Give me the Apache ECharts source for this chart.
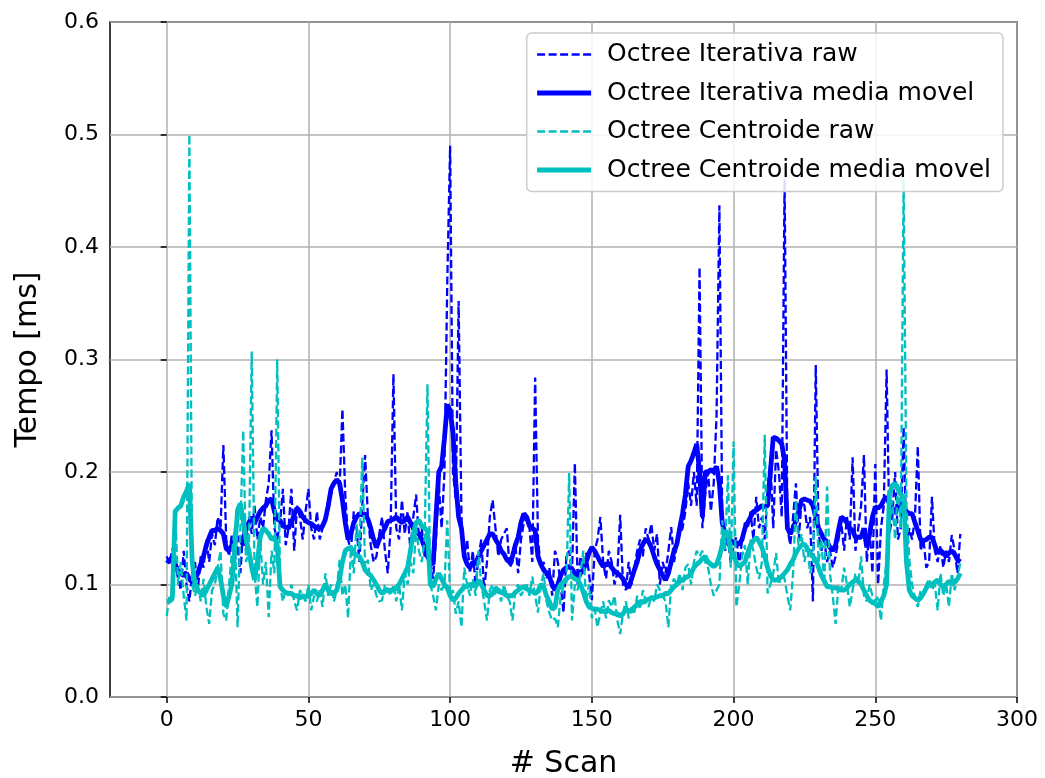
<!DOCTYPE html>
<html>
<head>
<meta charset="utf-8">
<script src="https://cdn.jsdelivr.net/npm/echarts@6/dist/echarts.min.js"></script>
<style>
html,body{margin:0;padding:0;background:#fff;}
#chart{width:1045px;height:778px;}
</style>
</head>
<body>
<div id="chart"></div>
<script>
const xTicks = [0, 50, 100, 150, 200, 250, 300];
const yTicks = [0.0, 0.1, 0.2, 0.3, 0.4, 0.5, 0.6];

const iterativaRaw = [
0.125,0.118,0.132,0.12,0.105,0.095,0.13,0.1,0.085,0.11,
0.12,0.095,0.125,0.115,0.14,0.12,0.145,0.135,0.16,0.15,
0.224,0.14,0.125,0.145,0.12,0.135,0.11,0.15,0.13,0.16,
0.145,0.17,0.14,0.16,0.15,0.175,0.19,0.237,0.15,0.14,
0.155,0.185,0.135,0.15,0.185,0.13,0.17,0.16,0.14,0.165,
0.185,0.15,0.14,0.165,0.14,0.15,0.16,0.175,0.18,0.19,
0.2,0.185,0.256,0.18,0.14,0.13,0.165,0.15,0.12,0.17,
0.215,0.16,0.135,0.12,0.125,0.145,0.16,0.13,0.11,0.15,
0.287,0.15,0.14,0.175,0.145,0.165,0.13,0.16,0.18,0.14,
0.15,0.125,0.13,0.12,0.105,0.14,0.19,0.15,0.2,0.37,
0.49,0.2,0.175,0.352,0.16,0.12,0.14,0.11,0.13,0.1,
0.125,0.14,0.095,0.12,0.16,0.175,0.15,0.125,0.14,0.145,
0.15,0.115,0.12,0.135,0.11,0.14,0.155,0.16,0.15,0.12,
0.284,0.14,0.115,0.12,0.105,0.115,0.09,0.13,0.12,0.1,
0.075,0.125,0.13,0.11,0.208,0.1,0.125,0.115,0.128,0.11,
0.086,0.13,0.14,0.16,0.12,0.105,0.13,0.12,0.1,0.11,
0.162,0.1,0.095,0.12,0.1,0.115,0.13,0.14,0.125,0.15,
0.14,0.154,0.13,0.145,0.1,0.12,0.11,0.13,0.151,0.12,
0.135,0.145,0.15,0.165,0.19,0.17,0.2,0.17,0.382,0.15,
0.18,0.2,0.165,0.19,0.25,0.437,0.16,0.13,0.14,0.12,
0.135,0.142,0.115,0.14,0.155,0.15,0.165,0.14,0.178,0.15,
0.16,0.14,0.184,0.21,0.15,0.22,0.2,0.16,0.46,0.15,
0.135,0.16,0.19,0.14,0.175,0.17,0.15,0.16,0.085,0.295,
0.145,0.13,0.14,0.12,0.13,0.115,0.125,0.14,0.155,0.13,
0.16,0.14,0.213,0.13,0.15,0.17,0.215,0.12,0.15,0.11,
0.207,0.1,0.15,0.17,0.291,0.145,0.16,0.2,0.14,0.15,
0.24,0.13,0.15,0.14,0.16,0.223,0.13,0.14,0.115,0.12,
0.178,0.13,0.12,0.135,0.115,0.13,0.12,0.144,0.13,0.11,0.145
];

const iterativaMedia = [
0.122,0.12,0.125,0.118,0.112,0.11,0.108,0.11,0.105,0.102,
0.105,0.11,0.118,0.125,0.135,0.142,0.148,0.148,0.15,0.148,
0.145,0.132,0.13,0.135,0.138,0.14,0.142,0.135,0.15,0.155,
0.16,0.155,0.16,0.165,0.168,0.17,0.175,0.176,0.165,0.158,
0.157,0.152,0.151,0.15,0.155,0.162,0.168,0.165,0.16,0.157,
0.155,0.154,0.152,0.15,0.15,0.152,0.158,0.17,0.185,0.19,
0.193,0.19,0.175,0.155,0.14,0.145,0.155,0.16,0.163,0.162,
0.163,0.158,0.15,0.14,0.133,0.14,0.145,0.15,0.156,0.157,
0.158,0.16,0.157,0.155,0.157,0.16,0.155,0.15,0.148,0.145,
0.14,0.133,0.125,0.12,0.118,0.16,0.2,0.205,0.23,0.26,
0.255,0.235,0.19,0.16,0.15,0.125,0.118,0.115,0.12,0.118,
0.125,0.13,0.135,0.14,0.145,0.145,0.14,0.136,0.13,0.127,
0.122,0.12,0.125,0.135,0.142,0.155,0.163,0.16,0.152,0.15,
0.148,0.125,0.118,0.113,0.11,0.107,0.1,0.095,0.1,0.108,
0.113,0.115,0.116,0.114,0.11,0.105,0.11,0.113,0.12,0.128,
0.133,0.13,0.125,0.12,0.116,0.118,0.119,0.115,0.112,0.11,
0.108,0.105,0.1,0.097,0.105,0.113,0.12,0.13,0.136,0.14,
0.138,0.133,0.125,0.118,0.113,0.108,0.104,0.11,0.12,0.13,
0.136,0.15,0.163,0.18,0.205,0.21,0.217,0.225,0.2,0.16,
0.2,0.2,0.202,0.2,0.205,0.19,0.155,0.145,0.14,0.139,
0.137,0.136,0.136,0.14,0.15,0.155,0.16,0.165,0.166,0.168,
0.17,0.169,0.17,0.2,0.231,0.23,0.228,0.225,0.21,0.15,
0.145,0.15,0.157,0.165,0.175,0.176,0.175,0.174,0.17,0.16,
0.15,0.145,0.14,0.138,0.133,0.13,0.135,0.148,0.16,0.158,
0.155,0.15,0.148,0.142,0.142,0.142,0.15,0.133,0.145,0.16,
0.169,0.168,0.17,0.175,0.178,0.172,0.168,0.163,0.17,0.172,
0.168,0.165,0.163,0.163,0.155,0.148,0.14,0.139,0.14,0.142,
0.142,0.135,0.128,0.13,0.128,0.125,0.128,0.13,0.127,0.122,0.12
];

const centroideRaw = [
0.072,0.09,0.085,0.165,0.1,0.12,0.09,0.068,0.5,0.1,
0.09,0.1,0.085,0.105,0.08,0.065,0.095,0.1,0.116,0.13,
0.074,0.068,0.1,0.128,0.15,0.062,0.15,0.237,0.12,0.13,
0.307,0.11,0.08,0.14,0.1,0.12,0.071,0.13,0.11,0.3,
0.1,0.085,0.095,0.09,0.1,0.085,0.077,0.095,0.09,0.085,
0.1,0.077,0.09,0.085,0.095,0.08,0.11,0.09,0.1,0.085,
0.095,0.122,0.09,0.1,0.07,0.133,0.11,0.154,0.13,0.213,
0.115,0.122,0.095,0.1,0.09,0.085,0.086,0.1,0.095,0.09,
0.1,0.085,0.1,0.077,0.11,0.1,0.12,0.11,0.15,0.13,
0.12,0.14,0.278,0.1,0.09,0.077,0.1,0.095,0.1,0.157,
0.09,0.095,0.074,0.085,0.062,0.115,0.1,0.09,0.105,0.09,
0.13,0.1,0.085,0.068,0.095,0.1,0.09,0.095,0.085,0.1,
0.09,0.085,0.068,0.095,0.1,0.09,0.095,0.1,0.09,0.107,
0.09,0.075,0.1,0.11,0.085,0.075,0.068,0.07,0.062,0.09,
0.098,0.1,0.199,0.068,0.1,0.095,0.11,0.13,0.085,0.1,
0.07,0.078,0.062,0.075,0.085,0.07,0.086,0.08,0.09,0.068,
0.056,0.075,0.085,0.07,0.08,0.075,0.09,0.078,0.095,0.085,
0.08,0.09,0.085,0.1,0.095,0.09,0.085,0.062,0.1,0.105,
0.1,0.11,0.095,0.115,0.118,0.1,0.12,0.13,0.125,0.13,
0.12,0.115,0.1,0.09,0.095,0.1,0.157,0.13,0.197,0.115,
0.227,0.08,0.1,0.125,0.135,0.1,0.14,0.13,0.115,0.105,
0.12,0.233,0.092,0.1,0.11,0.128,0.1,0.11,0.105,0.09,
0.077,0.11,0.175,0.13,0.145,0.12,0.135,0.11,0.12,0.196,
0.12,0.14,0.1,0.187,0.11,0.09,0.065,0.1,0.095,0.115,
0.1,0.08,0.095,0.11,0.1,0.125,0.09,0.085,0.1,0.09,
0.085,0.09,0.068,0.1,0.12,0.16,0.175,0.14,0.19,0.15,
0.46,0.17,0.122,0.1,0.088,0.08,0.095,0.09,0.1,0.105,
0.095,0.1,0.077,0.11,0.09,0.1,0.08,0.11,0.095,0.105,0.12
];

const centroideMedia = [
0.085,0.085,0.088,0.165,0.168,0.17,0.178,0.183,0.19,0.12,
0.1,0.095,0.092,0.09,0.095,0.1,0.105,0.11,0.115,0.105,
0.09,0.08,0.09,0.1,0.13,0.166,0.172,0.157,0.14,0.13,
0.115,0.104,0.12,0.142,0.15,0.148,0.145,0.14,0.142,0.135,
0.098,0.095,0.093,0.092,0.092,0.09,0.09,0.088,0.09,0.089,
0.09,0.092,0.095,0.092,0.09,0.095,0.1,0.095,0.092,0.092,
0.095,0.105,0.12,0.13,0.132,0.133,0.128,0.126,0.125,0.12,
0.113,0.11,0.108,0.104,0.1,0.095,0.092,0.094,0.095,0.095,
0.095,0.097,0.1,0.105,0.11,0.115,0.13,0.145,0.155,0.157,
0.152,0.15,0.148,0.1,0.098,0.105,0.11,0.105,0.1,0.097,
0.09,0.086,0.088,0.092,0.095,0.098,0.098,0.1,0.1,0.098,
0.104,0.1,0.095,0.09,0.09,0.092,0.097,0.095,0.093,0.092,
0.09,0.09,0.09,0.093,0.095,0.097,0.098,0.096,0.095,0.094,
0.092,0.094,0.1,0.098,0.09,0.085,0.078,0.08,0.095,0.1,
0.102,0.105,0.107,0.107,0.105,0.104,0.1,0.093,0.085,0.08,
0.079,0.078,0.078,0.077,0.076,0.077,0.077,0.075,0.074,0.074,
0.072,0.074,0.078,0.077,0.076,0.08,0.082,0.085,0.084,0.086,
0.087,0.088,0.088,0.089,0.09,0.09,0.092,0.092,0.095,0.098,
0.1,0.103,0.104,0.106,0.107,0.11,0.115,0.118,0.12,0.123,
0.125,0.12,0.118,0.116,0.118,0.125,0.135,0.148,0.145,0.13,
0.125,0.12,0.116,0.118,0.12,0.128,0.135,0.139,0.142,0.138,
0.133,0.125,0.115,0.108,0.104,0.104,0.105,0.107,0.11,0.113,
0.118,0.122,0.128,0.132,0.135,0.136,0.132,0.128,0.125,0.122,
0.115,0.108,0.103,0.098,0.098,0.097,0.097,0.096,0.095,0.095,
0.097,0.1,0.102,0.104,0.103,0.1,0.095,0.09,0.086,0.084,
0.083,0.08,0.085,0.09,0.1,0.18,0.188,0.19,0.185,0.18,
0.178,0.12,0.095,0.09,0.088,0.086,0.088,0.092,0.097,0.1,
0.1,0.102,0.104,0.1,0.098,0.1,0.103,0.1,0.102,0.105,0.11
];

const seriesNames = ['Octree Iterativa raw','Octree Iterativa media movel','Octree Centroide raw','Octree Centroide media movel'];

function pairs(arr){ return arr.map((v,i)=>[i,v]); }

const FONT = 'DejaVu Sans';
const BLUE = '#0000ff';
const CYAN = '#00bfbf';
const RAW_W = 2.3, MA_W = 4.8;
const DASH = [8,3.5];

const chart = echarts.init(document.getElementById('chart'), null, {renderer:'canvas'});
chart.setOption({
  animation: false,
  backgroundColor: '#ffffff',
  textStyle: {fontFamily: FONT},
  grid: {left:110, top:22, width:907, height:675, outerBoundsMode:'none', containLabel:false,
         show:true, borderColor:'#000', borderWidth:1.5, backgroundColor:'#fff'},
  legend: {
    orient:'vertical', right:42, top:33,
    backgroundColor:'rgba(255,255,255,0.85)', borderColor:'#cccccc', borderWidth:1.5, borderRadius:5,
    padding:[9,12,9,8],
    itemWidth:54, itemHeight:14, itemGap:13.5,
    textStyle:{fontFamily:FONT, fontSize:25, color:'#000', padding:[0,0,0,11]},
    data: [
      {name:seriesNames[0], itemStyle:{opacity:0}, lineStyle:{color:BLUE, width:RAW_W, type:DASH}},
      {name:seriesNames[1], itemStyle:{opacity:0}, lineStyle:{color:BLUE, width:MA_W, type:'solid'}},
      {name:seriesNames[2], itemStyle:{opacity:0}, lineStyle:{color:CYAN, width:RAW_W, type:DASH}},
      {name:seriesNames[3], itemStyle:{opacity:0}, lineStyle:{color:CYAN, width:MA_W, type:'solid'}}
    ]
  },
  xAxis: {
    type:'value', min:-20, max:300,
    name:'# Scan', nameLocation:'middle', nameGap:52,
    nameTextStyle:{fontFamily:FONT, fontSize:30, color:'#000'},
    axisLine:{show:false},
    axisTick:{show:true, inside:false, length:6, lineStyle:{color:'#000', width:1.5}, customValues: xTicks},
    axisLabel:{fontFamily:FONT, fontSize:22, color:'#000', margin:12, customValues: xTicks},
    splitLine:{show:true, lineStyle:{color:'#b0b0b0', width:1.5}}
  },
  yAxis: {
    type:'value', min:0, max:0.6, interval:0.1,
    name:'Tempo [ms]', nameLocation:'middle', nameGap:67,
    nameTextStyle:{fontFamily:FONT, fontSize:30, color:'#000'},
    axisLine:{show:false},
    axisTick:{show:true, inside:false, length:6, lineStyle:{color:'#000', width:1.5}},
    axisLabel:{fontFamily:FONT, fontSize:22, color:'#000', margin:11, formatter:(v)=>v.toFixed(1)},
    splitLine:{show:true, lineStyle:{color:'#b0b0b0', width:1.5}}
  },
  series: [
    {name:seriesNames[0], type:'line', data:pairs(iterativaRaw), symbol:'none', showSymbol:false,
     lineStyle:{color:BLUE, width:RAW_W, type:DASH}, itemStyle:{color:BLUE}},
    {name:seriesNames[1], type:'line', data:pairs(iterativaMedia), symbol:'none', showSymbol:false,
     lineStyle:{color:BLUE, width:MA_W}, itemStyle:{color:BLUE}},
    {name:seriesNames[2], type:'line', data:pairs(centroideRaw), symbol:'none', showSymbol:false,
     lineStyle:{color:CYAN, width:RAW_W, type:DASH}, itemStyle:{color:CYAN}},
    {name:seriesNames[3], type:'line', data:pairs(centroideMedia), symbol:'none', showSymbol:false,
     lineStyle:{color:CYAN, width:MA_W}, itemStyle:{color:CYAN}}
  ]
});
</script>
</body>
</html>
